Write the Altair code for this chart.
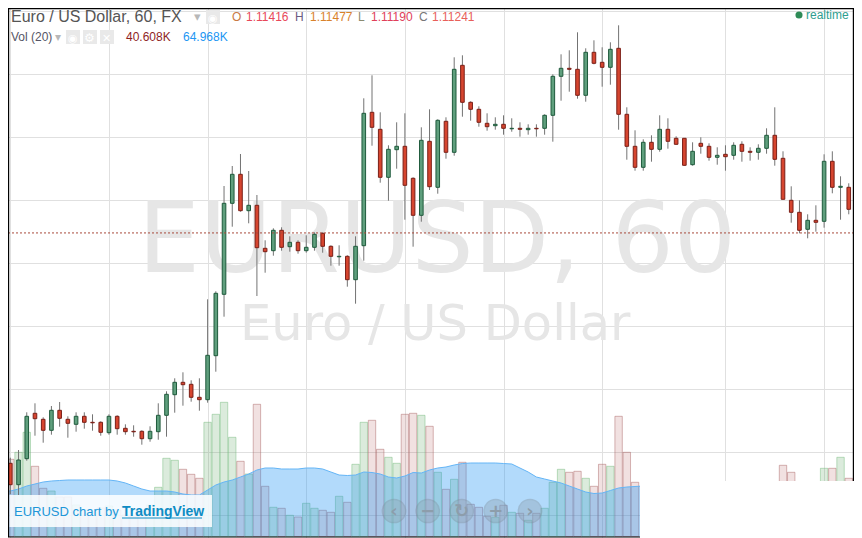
import altair as alt
import pandas as pd

# Readings, candle by candle (chart rows, top = small).
HIGH = [454,457.7,450,412.3,403.3,417.3,406,402,416.3,412.3,412.3,414.3,421.3,414.3,415.3,424.3,425.3,430.3,426.3,403.3,
        391.3,378.3,372.3,380.3,378.3,299.3,291.3,186,166,154,171,195,240.3,228.3,227.3,236.3,240.3,235.3,232.3,232.3,
        245.3,245.3,255.3,236.3,98.3,75.3,112.3,145.3,122.3,113.3,177.3,127.3,109.3,119.3,117.3,57.3,55.3,101.3,106.3,113.3,
        117.3,115.3,118.3,122.3,124.3,124.3,114.3,74.3,54.3,50.3,32.3,48.3,40.3,47.3,42.3,25.3,107.3,130.3,139.3,135.3,
        115.3,118.3,136.3,138.3,142.3,137.3,143.3,147.3,145.3,142.3,141.3,147.3,144.3,128.3,107.3,151.3,186.3,200.3,214.3,205.3,
        154.3,151.3,176.3,183.3,183.3]
LOW = [478,494,495,460.7,435.7,442.7,434.7,426.7,437.7,431.7,428.7,430.7,435.7,434.7,434.7,434.7,436.7,444.7,441.7,439.7,
       436.7,412.7,405.7,401.7,410.7,402.7,371.7,316.7,226.7,211.7,223.3,296,272.7,255.7,250.7,251.7,253.7,252.7,250.7,252.7,
       265.7,265.7,286.7,303.7,260.7,145.7,182.7,200.7,168.7,219.7,246.7,221.7,190,193.7,158.7,155.7,116.7,120.7,126.7,130.7,
       129.7,134.7,131.7,136.7,134.7,136.7,134.7,141.7,100.7,91.7,98.7,101.7,64.3,86.7,84.7,129.7,159.7,170.7,170.7,161.7,
       151.7,148.7,144.7,165.7,165.7,153.7,160.7,164.7,170.7,159.7,161.7,160.7,159.7,153.7,165.7,199.3,222.7,233.3,238.3,231.7,
       227.7,193.3,219.7,214.3,216.7]
BODY_TOP = [462.7,463.3,460,416.3,413.3,419.3,410.3,410.3,419.3,416.3,416.3,422.3,422.3,416.3,416.3,428.3,431.3,431.3,431.3,415.3,
            394.3,382.3,382.3,384.3,397.3,355.3,293.3,203.3,174.3,174.3,205.3,205.3,248.3,230.3,230.3,242.3,242.3,247.3,234.3,233.3,
            246.3,256.3,256.3,246.3,113.3,112.3,129.3,149.3,146.3,146.3,178.3,140.3,141.3,120.3,121.3,69.3,65.3,102.3,109.3,123.3,
            124.3,124.3,128.3,128.3,128.3,128.3,115.3,76.3,68.3,68.3,69.3,52.3,52.3,62.3,49.3,48.3,114.3,146.3,142.3,142.3,
            129.3,129.3,138.3,138.3,151.3,143.3,146.3,155.3,154.3,145.3,144.3,151.3,148.3,135.3,135.3,158.3,200.3,212.3,220.3,220.3,
            161.3,161.3,186.3,187.3,191.3]
BODY_BOTTOM = [465.7,484.7,484.7,458.7,418.7,430.3,430.3,418.3,423.3,424.3,422.3,422.8,432.3,432.7,428.7,431.7,431.8,438.7,438.7,431.7,
               415.3,394.7,384.7,397.3,399.7,399.7,355.7,294.3,203.3,210.7,210.7,247.7,251.7,250.7,247.3,246.7,250.7,250.7,247.3,246.3,
               256.3,256.8,279.7,279.7,245.7,127.3,177.3,177.3,149.7,185.3,215.3,215.3,186.7,187.3,152.3,152.3,102.3,109.3,122.3,126.7,
               125.7,128.3,128.8,129.3,129.7,128.8,128.3,115.3,76.3,69.3,95.3,95.3,63.3,67.3,67.3,114.3,146.3,167.3,167.3,149.3,
               149.3,141.3,144.3,165.3,164.7,146.3,157.3,157.3,156.7,155.3,151.3,152.3,152.3,148.3,159.3,199.3,212.3,230.3,229.3,222.3,
               221.3,187.3,187.3,209.3,210.3]
RISING = "GRGGRRGRRGRRRGRRRRGG" "GGRRRGGGGRGRRGRGRGGR" "RGRGGRRGGRRGRGRGRRRR" "GRGRGRGGGRRGRRGRRRGR" "GRRRGRRGRGRRGGRRRRGR" "GRGRG"

VOL_TOP = [472.3,459.3,452.3,432.3,466.3,488.3,491,497,497,505,510,512,508,506,510,515,516,512,505,487.3,
           458.3,460.3,469.3,474.3,478.3,422.3,414.3,402.3,437.3,461.3,474,404.3,486.3,507.3,508.3,515.3,517,503.3,508.3,510.3,
           512.3,496.3,502.3,464.3,422.3,420.3,449.3,457.3,463.3,414.3,413.3,415.3,426.3,472.3,489.3,479.3,462.3,504.3,507.3,516.3,
           517.3,505.3,512.3,513.3,520.3,513.3,508.3,482.3,469.3,472.3,471.3,478.3,486.3,464.3,466.3,416.3,452.3,482.3]
VOL_EXTRA_INDEX = [95, 96, 100, 101, 102, 103]
VOL_EXTRA_TOP = [465.3, 472.3, 468.3, 468.3, 457.3, 478.3]
VOL_MA_TOP = [491,491,489,486,484,482,481,480.5,480,480,480,480,480,480,481,483,486,489,491,491,
              491,492,494,495,495,490,485,482,480,477,474,470,468,468,469,469,469,468,468,469,
              472,475,475.5,475,472,472.5,474,477,478,476,472.5,473,470,468,467,465,463.5,463,463,463,
              463,463.5,464,468,472,477,479,481,483,486,489,492,493.5,493,490.5,488,487,486.5,486]

LAST_CLOSE = 1.11241
GRID_PRICES = [1.13, 1.125, 1.12, 1.115, 1.11, 1.105, 1.10, 1.095, 1.09]
GRID_BARS = [1, 13, 25, 37, 49, 61, 73, 88, 100]

W, H = 846, 530


def price(r):
    return 1.115 + (200.3 - r) * 0.005 / 63


def kvol(r):
    return (536.5 - r) * 1.3


def X(v):
    return v - 8


def Y(v):
    return v - 8


n = len(HIGH)
candles = pd.DataFrame({
    "bar": list(range(n)),
    "high": [price(v) for v in HIGH],
    "low": [price(v) for v in LOW],
    "top": [price(v) for v in BODY_TOP],
    "bottom": [price(v) for v in BODY_BOTTOM],
    "dir": list(RISING),
})
vol_idx = list(range(len(VOL_TOP))) + VOL_EXTRA_INDEX
vol_dirs = [RISING[i] for i in vol_idx]
volume = pd.DataFrame({
    "bar": vol_idx,
    "vol": [kvol(v) for v in VOL_TOP + VOL_EXTRA_TOP],
    "zero": 0.0,
    "dir": vol_dirs,
})
ma = pd.DataFrame({
    "bar": list(range(len(VOL_MA_TOP))),
    "ma": [kvol(v) for v in VOL_MA_TOP],
    "zero": 0.0,
})

x_scale = alt.Scale(domain=[(8 - 2.1) / 8.22, (854 - 2.1) / 8.22], nice=False, zero=False, padding=0)
p_scale = alt.Scale(domain=[price(538), price(8)], nice=False, zero=False)
v_scale = alt.Scale(domain=[kvol(538), kvol(8)], nice=False, zero=False)
x_enc = alt.X("bar:Q", scale=x_scale, axis=None)

one = alt.Data(values=[{"k": 1}])


def label(text, x, y, size=12, color="#555555", font="Liberation Sans", weight="normal", align="left", opacity=1, clip=False):
    return alt.Chart(one).mark_text(
        font=font, fontSize=size, color=color, fontWeight=weight, align=align,
        baseline="alphabetic", opacity=opacity, clip=clip,
    ).encode(x=alt.value(X(x)), y=alt.value(Y(y)), text=alt.value(text))


def box(x1, x2, y1, y2, color, opacity=1.0):
    return alt.Chart(one).mark_rect(color=color, opacity=opacity).encode(
        x=alt.value(X(x1)), x2=alt.value(X(x2)), y=alt.value(Y(y1)), y2=alt.value(Y(y2)))


grid_axis_x = alt.Axis(values=GRID_BARS, grid=True, gridColor="#e0e0e0", gridWidth=1, labels=False, ticks=False, domain=False, title=None)
grid_axis_y = alt.Axis(values=GRID_PRICES, grid=True, gridColor="#e0e0e0", gridWidth=1, labels=False, ticks=False, domain=False, title=None)

grid = alt.Chart(candles).mark_point(opacity=0).encode(
    x=alt.X("bar:Q", scale=x_scale, axis=grid_axis_x),
    y=alt.Y("high:Q", scale=p_scale, axis=grid_axis_y),
)

water1 = label("EURUSD, 60", 138, 272, size=98, color="#e6e6e6", font="DejaVu Sans")
water2 = label("Euro / US Dollar", 240, 340, size=49.5, color="#e6e6e6", font="DejaVu Sans")

vol_bars = alt.Chart(volume).mark_bar(width=7.4, strokeWidth=1, orient="vertical", clip=True).encode(
    x=x_enc,
    y=alt.Y("vol:Q", scale=v_scale, axis=None),
    y2="zero:Q",
    fill=alt.Fill("dir:N", scale=alt.Scale(domain=["G", "R"], range=["#4a9c52", "#a13333"]), legend=None),
    stroke=alt.Stroke("dir:N", scale=alt.Scale(domain=["G", "R"], range=["#6fb878", "#a86060"]), legend=None),
    fillOpacity=alt.FillOpacity("dir:N", scale=alt.Scale(domain=["G", "R"], range=[0.2, 0.15]), legend=None),
    strokeOpacity=alt.value(0.45),
)
ma_area = alt.Chart(ma).mark_area(color="#2196f3", opacity=0.35, clip=True).encode(
    x=x_enc,
    y=alt.Y("ma:Q", scale=v_scale, axis=None),
    y2="zero:Q",
)
ma_line = alt.Chart(ma).mark_line(color="#64b5f6", strokeWidth=1, clip=True).encode(
    x=x_enc,
    y=alt.Y("ma:Q", scale=v_scale, axis=None),
)

wicks = alt.Chart(candles).mark_rule(color="#737373", strokeWidth=1, clip=True).encode(
    x=x_enc,
    y=alt.Y("high:Q", scale=p_scale, axis=None),
    y2="low:Q",
)
bodies = alt.Chart(candles).mark_bar(width=3.6, strokeWidth=1, orient="vertical", clip=True).encode(
    x=x_enc,
    y=alt.Y("top:Q", scale=p_scale, axis=None),
    y2="bottom:Q",
    fill=alt.Fill("dir:N", scale=alt.Scale(domain=["G", "R"], range=["#5f9f7d", "#d6452f"]), legend=None),
    stroke=alt.Stroke("dir:N", scale=alt.Scale(domain=["G", "R"], range=["#1f5a3c", "#7a1f17"]), legend=None),
)
price_line = alt.Chart(alt.Data(values=[{"p": LAST_CLOSE}])).mark_rule(
    color="#a8493c", strokeWidth=1, strokeDash=[2, 2]
).encode(y=alt.Y("p:Q", scale=p_scale, axis=None))

# screen furniture
cover = box(640, 854, 481, 538, "#ffffff")
frame = [
    box(8, 854, 8, 9.2, "#000000"),
    box(8, 9.2, 8, 537, "#000000"),
    box(852.8, 854, 8, 481, "#000000"),
    box(8, 640, 536.5, 537.6, "#000000"),
]

header = [
    label("Euro / US Dollar, 60, FX", 11, 22, size=16, color="#555555"),
    label("▾", 194, 21, size=13, color="#b8b8b8", font="DejaVu Sans"),
    box(206, 220, 10, 24, "#e9e9e9"),
    label("◉", 208, 21.5, size=11, color="#ffffff", font="DejaVu Sans"),
    label("O", 232, 21, size=12, color="#c97a45"),
    label("1.11416", 246, 21, size=12, color="#e8485a"),
    label("H", 295, 21, size=12, color="#6a5a80"),
    label("1.11477", 310, 21, size=12, color="#d9822b"),
    label("L", 358, 21, size=12, color="#8a8a70"),
    label("1.11190", 371, 21, size=12, color="#e0405a"),
    label("C", 419, 21, size=12, color="#777777"),
    label("1.11241", 432, 21, size=12, color="#e8605a"),
    label("Vol (20)", 11, 41, size=12, color="#555566"),
    label("▾", 55, 41, size=12, color="#b8b8b8", font="DejaVu Sans"),
    box(66, 80, 30, 44, "#e9e9e9"),
    box(83, 97, 30, 44, "#e9e9e9"),
    box(100, 114, 30, 44, "#e9e9e9"),
    label("◉", 68, 41.5, size=11, color="#ffffff", font="DejaVu Sans"),
    label("⚙", 84, 41.5, size=12, color="#ffffff", font="DejaVu Sans"),
    label("✕", 102, 41.5, size=11, color="#ffffff", font="DejaVu Sans"),
    label("40.608K", 126, 41, size=12, color="#8f1f1f"),
    label("64.968K", 183, 41, size=12, color="#2196f3"),
    alt.Chart(one).mark_circle(color="#2e8b57", size=50, opacity=1).encode(x=alt.value(X(799)), y=alt.value(Y(15))),
    label("realtime", 806, 19, size=12, color="#2f9e8f"),
]

badge = [
    box(9.5, 212, 495, 527, "#ffffff", opacity=0.85),
    label("EURUSD chart by", 14, 516, size=13, color="#2196d8"),
    label("TradingView", 122, 516, size=14, color="#0f8cc4", weight="bold"),
    box(122, 202, 517.5, 518.6, "#0f8cc4"),
]

nav_centers = [394, 427.7, 461.7, 495.7, 530]
nav_glyphs = ["‹", "−", "↻", "+", "›"]
nav = []
for cx, g in zip(nav_centers, nav_glyphs):
    nav.append(alt.Chart(one).mark_circle(size=540, color="#8fa3b3", opacity=0.4, stroke="#7f8f9c", strokeWidth=1.5).encode(
        x=alt.value(X(cx)), y=alt.value(Y(511))))
    nav.append(label(g, cx, 517, size=18, color="#8d9dab", font="DejaVu Sans", weight="bold", align="center"))

chart = alt.layer(
    grid, water1, water2, vol_bars, ma_area, ma_line, wicks, bodies, price_line,
    cover, *frame, *header, *badge, *nav,
).resolve_scale(y="independent", x="independent", fill="independent", stroke="independent").properties(
    width=W, height=H, padding=0, autosize=alt.AutoSizeParams(type="none"),
).configure_view(stroke=None).configure(background="#ffffff")

chart.save("out.html", embed_options={"renderer": "svg", "actions": False})
